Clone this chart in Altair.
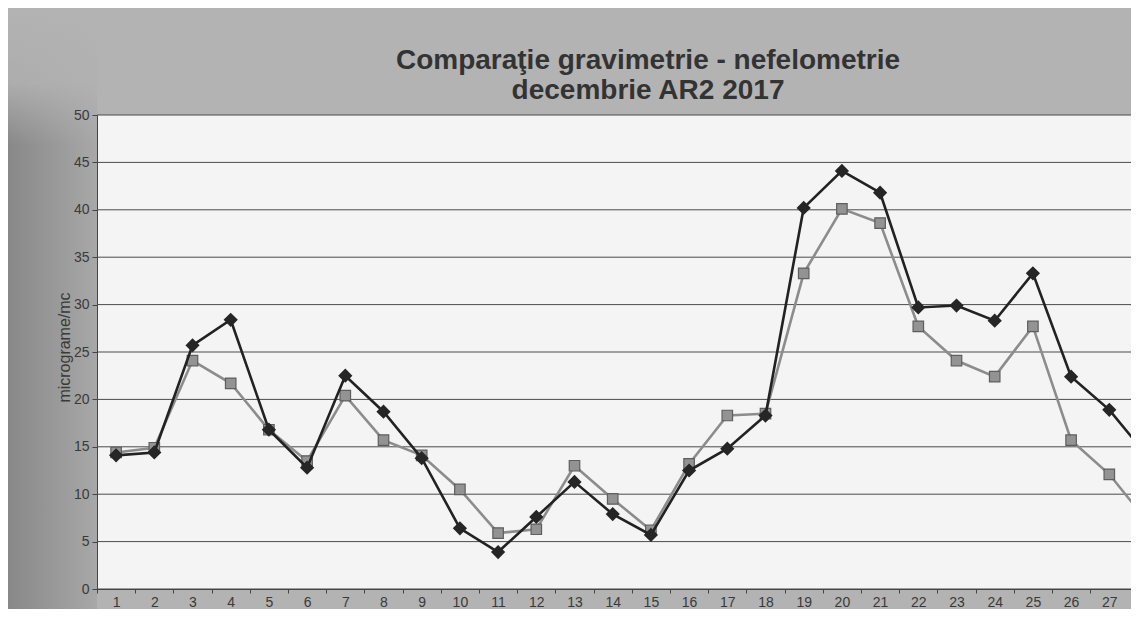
import altair as alt
import pandas as pd

# ---- data (day of December 2017, micrograme/mc) ----
days = list(range(1, 29))
gravimetrie = [14.1, 14.4, 25.7, 28.4, 16.8, 12.8, 22.5, 18.7, 13.8, 6.4,
               3.9, 7.6, 11.3, 7.9, 5.7, 12.5, 14.8, 18.3, 40.2, 44.1,
               41.8, 29.7, 29.9, 28.3, 33.3, 22.4, 18.9, 14.0]
nefelometrie = [14.4, 14.9, 24.1, 21.7, 16.8, 13.5, 20.4, 15.7, 14.1, 10.5,
                5.9, 6.3, 13.0, 9.5, 6.2, 13.2, 18.3, 18.5, 33.3, 40.1,
                38.6, 27.7, 24.1, 22.4, 27.7, 15.7, 12.1, 7.1]
x_labels = list(range(1, 28))
y_ticks = [0, 5, 10, 15, 20, 25, 30, 35, 40, 45, 50]

title_line1 = "Comparaţie gravimetrie - nefelometrie"
title_line2 = "decembrie AR2 2017"
y_title = "micrograme/mc"

df = pd.DataFrame({"zi": days, "grav": gravimetrie, "nef": nefelometrie})
grid_df = pd.DataFrame({"v": y_ticks})

W, H = 1034, 474
BAND = 38.2
PAD_L, PAD_T, PAD_B = 89, 107, 20

xscale = alt.Scale(domain=[0.5, 0.5 + W / BAND], nice=False, zero=False)
yscale = alt.Scale(domain=[0, 50], nice=False)

x_axis = alt.Axis(values=x_labels, title=None, grid=False, format="d",
                  tickOffset=-BAND / 2, labelOffset=BAND / 2,
                  tickSize=4, tickColor="#444", domainColor="#444",
                  labelFont="Liberation Sans", labelFontSize=14,
                  labelColor="#3a3a3a", labelPadding=2, zindex=1,
                  labelFlush=False, labelOverlap=False)
y_axis = alt.Axis(values=y_ticks, grid=False, title=y_title,
                  tickSize=5, tickColor="#444", domainColor="#444",
                  labelFont="Liberation Sans", labelFontSize=14,
                  labelColor="#3a3a3a", labelPadding=3, zindex=1,
                  labelOverlap=False,
                  titleFont="Liberation Sans", titleFontSize=16,
                  titleFontWeight="normal", titleColor="#3a3a3a",
                  titleX=-33, titleY=232, titleAngle=270,
                  titleAlign="center", titleBaseline="middle")

one = alt.Data(values=[{"a": 1}])

# darker left strip of the chart frame
left_strip = alt.Chart(one).mark_rect(
    fill=alt.LinearGradient(
        gradient="linear", x1=0, y1=0, x2=1, y2=0,
        stops=[alt.GradientStop(offset=0, color="#888888"),
               alt.GradientStop(offset=1, color="#a8a8a8")]
    )
).encode(x=alt.value(-PAD_L), x2=alt.value(0),
         y=alt.value(-PAD_T), y2=alt.value(H + PAD_B))

top_fade = alt.Chart(one).mark_rect(
    fill=alt.LinearGradient(
        gradient="linear", x1=0, y1=0, x2=0, y2=1,
        stops=[alt.GradientStop(offset=0, color="rgba(179,179,179,1)"),
               alt.GradientStop(offset=0.55, color="rgba(179,179,179,0.85)"),
               alt.GradientStop(offset=1, color="rgba(179,179,179,0)")]
    )
).encode(x=alt.value(-PAD_L), x2=alt.value(0),
         y=alt.value(-PAD_T), y2=alt.value(30))

title1 = alt.Chart(one).mark_text(
    font="Liberation Sans", fontSize=28, fontWeight="bold", color="#333333",
    align="center", baseline="alphabetic"
).encode(x=alt.value(551), y=alt.value(-46), text=alt.value(title_line1))

title2 = alt.Chart(one).mark_text(
    font="Liberation Sans", fontSize=28, fontWeight="bold", color="#333333",
    align="center", baseline="alphabetic"
).encode(x=alt.value(551), y=alt.value(-16), text=alt.value(title_line2))

grid = alt.Chart(grid_df).mark_rule(color="#4a4a4a", strokeWidth=1).encode(
    y=alt.Y("v:Q", scale=yscale, axis=y_axis),
    x=alt.value(0), x2=alt.value(W),
)

nef_line = alt.Chart(df).mark_line(
    color="#8c8c8c", strokeWidth=2.6, clip=True,
    point=alt.OverlayMarkDef(shape="square", size=110, filled=True,
                             fill="#939393", stroke="#5e5e5e", strokeWidth=1.2)
).encode(x=alt.X("zi:Q", scale=xscale, axis=x_axis),
         y=alt.Y("nef:Q", scale=yscale, axis=y_axis))

grav_line = alt.Chart(df).mark_line(
    color="#222222", strokeWidth=2.6, clip=True,
    point=alt.OverlayMarkDef(shape="diamond", size=130, filled=True,
                             fill="#262626", stroke="#262626")
).encode(x=alt.X("zi:Q", scale=xscale, axis=x_axis),
         y=alt.Y("grav:Q", scale=yscale, axis=y_axis))

chart = alt.layer(left_strip, top_fade, title1, title2, grid, nef_line,
                  grav_line).properties(
    width=W, height=H,
    autosize=alt.AutoSizeParams(type="none"),
    padding={"left": PAD_L, "top": PAD_T, "right": 0, "bottom": PAD_B},
    background="#b3b3b3",
).configure_view(fill="#f4f4f4", stroke=None).configure_axis(
    labelOverlap=False)

chart.save("out.html", embed_options={"renderer": "svg", "actions": False})
